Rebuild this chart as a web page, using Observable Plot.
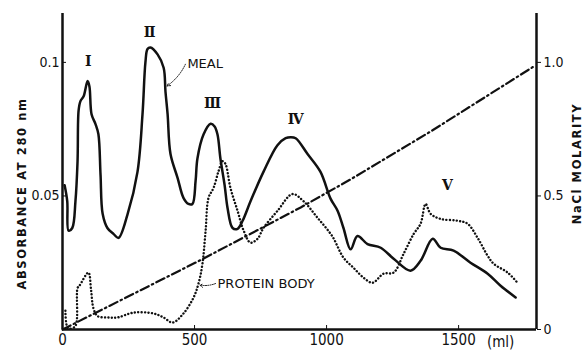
<!DOCTYPE html>
<html><head><meta charset="utf-8">
<script src="https://cdn.jsdelivr.net/npm/d3@7"></script>
<script src="https://cdn.jsdelivr.net/npm/@observablehq/plot@0.6"></script>
<style>body{margin:0;background:#fff}</style>
</head><body><div id="chart"></div>
<script>
// MEAL elution profile (absorbance at 280 nm)
const mealVolume = [8,18,23,37,49,57,61,68,80,95,102,110,125,136,144,152,170,193,212,246,284,303,314,322,333,360,383,390,398,409,436,458,477,492,504,511,534,561,576,587,598,614,625,644,663,682,712,761,814,845,864,883,928,977,1015,1042,1064,1091,1117,1155,1205,1254,1318,1356,1402,1432,1481,1545,1610,1659,1716];
const mealAbs =    [0.054,0.048,0.037,0.038,0.048,0.063,0.082,0.0855,0.0873,0.093,0.091,0.0806,0.0769,0.0731,0.058,0.0433,0.038,0.0358,0.0343,0.043,0.059,0.0806,0.100,0.105,0.1056,0.103,0.098,0.089,0.0806,0.0657,0.0567,0.0493,0.047,0.047,0.0556,0.064,0.073,0.077,0.076,0.073,0.064,0.054,0.0455,0.038,0.0377,0.0407,0.048,0.059,0.069,0.0716,0.072,0.0716,0.0657,0.059,0.049,0.0444,0.038,0.030,0.035,0.032,0.0306,0.0265,0.022,0.0257,0.034,0.0306,0.0295,0.025,0.0209,0.0164,0.012];
// PROTEIN BODY elution profile
const proteinVolume = [11,21,48,57,65,98,108,117,133,170,208,269,345,383,417,458,496,515,530,542,553,572,591,606,617,636,663,686,712,739,761,814,871,913,966,1021,1064,1102,1140,1174,1216,1254,1292,1330,1356,1375,1394,1432,1496,1534,1572,1610,1633,1686,1723];
const proteinAbs =    [0.007,0.0005,0.0012,0.0155,0.0165,0.0213,0.015,0.008,0.005,0.0045,0.0045,0.0063,0.006,0.0045,0.0026,0.006,0.0119,0.0172,0.0246,0.037,0.0493,0.053,0.0593,0.063,0.062,0.053,0.0444,0.037,0.0325,0.034,0.038,0.0444,0.0507,0.048,0.0418,0.035,0.0269,0.0231,0.0194,0.0175,0.0209,0.0213,0.0284,0.0358,0.0396,0.047,0.0433,0.0414,0.0407,0.0396,0.0343,0.0276,0.0246,0.0213,0.0175];
// NaCl gradient (molarity)
const gradientVolume = [0,523,902,1091,1400,1785];
const gradientMolarity = [0,0.26,0.457,0.562,0.745,0.985];

const xMax = 1795;
const yMax = 0.1183;
const xTicks = [0,500,1000,1500];
const xTickLabels = ["0","500","1000","1500"];
const xUnit = "(ml)";
const yTicks = [0.05,0.1];
const yTickLabels = ["0.05","0.1"];
const rightTicks = [0,0.5,1.0];
const rightTickLabels = ["0","0.5","1.0"];
const leftTitle = "ABSORBANCE AT 280 nm";
const rightTitle = "NaCl MOLARITY";

const peakNames = ["Ⅰ","Ⅱ","Ⅲ","Ⅳ","Ⅴ"];
const peakVolume = [98,330,568,883,1458];
const peakAbs = [0.1005,0.1110,0.0845,0.0785,0.0540];

const curveNames = ["MEAL","PROTEIN BODY"];
const curveLabelVolume = [473,587];
const curveLabelAbs = [0.0993,0.0172];
const leaderTipVolume = [404,528];
const leaderTipAbs = [0.0912,0.0166];

const meal = mealVolume.map((v,i)=>({v, a: mealAbs[i]}));
const protein = proteinVolume.map((v,i)=>({v, a: proteinAbs[i]}));
const gradient = gradientVolume.map((v,i)=>({v, m: gradientMolarity[i]}));
const peaks = peakNames.map((n,i)=>({n, v: peakVolume[i], a: peakAbs[i]}));
const curveLabels = curveNames.map((n,i)=>({n, v: curveLabelVolume[i], a: curveLabelAbs[i], tv: leaderTipVolume[i], ta: leaderTipAbs[i]}));
const xFmt = new Map(xTicks.map((t,i)=>[t, xTickLabels[i]]));
const yFmt = new Map(yTicks.map((t,i)=>[t, yTickLabels[i]]));
const rightVals = rightTicks.map(m=>m/10);
const rFmt = new Map(rightVals.map((t,i)=>[t, rightTickLabels[i]]));

const font = "'DejaVu Sans Condensed', 'DejaVu Sans', sans-serif";

const chart = Plot.plot({
  width: 586, height: 352,
  marginLeft: 62, marginRight: 50, marginTop: 13, marginBottom: 23,
  x: {domain: [0, xMax]},
  y: {domain: [0, yMax]},
  style: {fontFamily: font, background: "#fff", color: "#111"},
  marks: [
    Plot.line(gradient, {x: "v", y: d => d.m/10, stroke: "#111", strokeWidth: 2.2, strokeDasharray: "9,3.5,1.5,3.5"}),
    Plot.line(protein, {x: "v", y: "a", stroke: "#111", strokeWidth: 2.4, strokeDasharray: "0.1,3.3", strokeLinecap: "round", curve: "catmull-rom"}),
    Plot.line(meal, {x: "v", y: "a", stroke: "#111", strokeWidth: 2.5, curve: "catmull-rom"}),
    Plot.ruleX([0, xMax], {stroke: "#111", strokeWidth: 2.5}),
    Plot.ruleY([0], {stroke: "#111", strokeWidth: 2.5}),
    Plot.axisX({ticks: xTicks, tickSize: -4, tickPadding: 9, tickFormat: d => xFmt.get(d), label: null, fontSize: 15, fontFamily: font}),
    Plot.text([xUnit], {x: () => xTicks[xTicks.length-1], frameAnchor: "bottom", dy: 13, dx: 42, lineAnchor: "middle", fontSize: 15, fontFamily: font, fill: "#111"}),
    Plot.axisY({anchor: "left", ticks: yTicks, tickSize: -4, tickPadding: 7, tickFormat: d => yFmt.get(d), label: null, fontSize: 14, fontFamily: font}),
    Plot.axisY({anchor: "right", ticks: rightVals, tickSize: 4, tickPadding: 3, tickFormat: d => rFmt.get(d), label: null, fontSize: 14, fontFamily: font}),
    Plot.text([leftTitle], {frameAnchor: "left", textAnchor: "middle", dx: -40, dy: 22, rotate: -90, fontSize: 11.5, fontWeight: "bold", fontFamily: "'DejaVu Sans', sans-serif", fill: "#111"}),
    Plot.text([rightTitle], {frameAnchor: "right", textAnchor: "middle", dx: 41, dy: -8, rotate: -90, fontSize: 11.5, fontWeight: "bold", fontFamily: "'DejaVu Sans', sans-serif", fill: "#111"}),
    Plot.text(peaks, {x: "v", y: "a", text: "n", fontSize: 14, fontWeight: "bold", fontFamily: "'DejaVu Serif', serif", fill: "#111"}),
    Plot.text(curveLabels, {x: "v", y: "a", text: "n", textAnchor: "start", fontSize: 13, fontFamily: "'DejaVu Sans', sans-serif", fill: "#111"}),
    Plot.arrow(curveLabels, {x1: "v", y1: "a", x2: "tv", y2: "ta", dx: -2, stroke: "#111", strokeWidth: 1, strokeDasharray: "1,1.3", headLength: 5, bend: 15})
  ]
});
document.getElementById("chart").append(chart);
d3.select(chart).selectAll("text").filter(function(){ return this.textContent === leftTitle || this.textContent === rightTitle; }).attr("letter-spacing", "1.6");
</script>
</body></html>
